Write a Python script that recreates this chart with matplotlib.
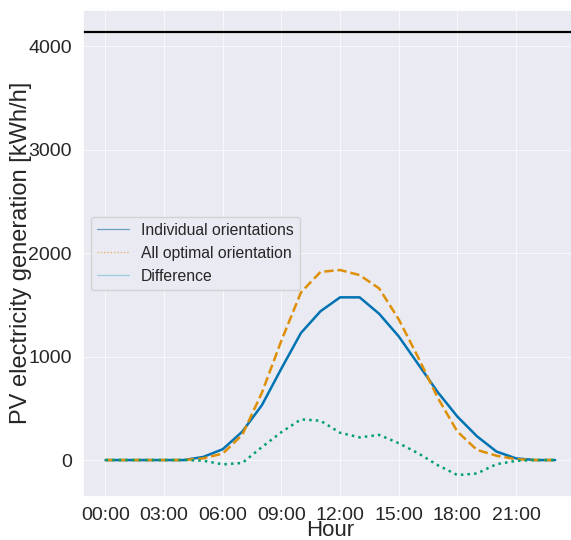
import matplotlib
matplotlib.use("Agg")
import matplotlib.pyplot as plt
import seaborn as sns
from matplotlib.lines import Line2D

hours = list(range(24))
individual = [0, 0, 0, 0, 0, 30, 105, 275, 530, 885, 1228, 1438, 1572, 1572, 1413, 1195,
              925, 655, 420, 230, 82, 16, 0, 0]
optimal = [0, 0, 0, 0, 0, 16, 63, 245, 650, 1155, 1620, 1818, 1836, 1787, 1658, 1360,
           990, 600, 275, 98, 42, 8, 0, 0]
difference = [0, 0, 0, 0, 0, -6, -42, -28, 125, 270, 393, 380, 264, 219, 243, 163,
              65, -50, -145, -130, -40, -8, 0, 0]
capacity = 4140
tick_hours = [0, 3, 6, 9, 12, 15, 18, 21]
tick_labels = ["00:00", "03:00", "06:00", "09:00", "12:00", "15:00", "18:00", "21:00"]
legend_labels = ["Individual orientations", "All optimal orientation", "Difference"]

sns.set_theme(style="darkgrid")
plt.rcParams['font.family'] = ['Liberation Sans', 'DejaVu Sans']

pal = sns.color_palette("colorblind")
fig = plt.figure(figsize=(5.71, 5.40), dpi=100)
ax = fig.add_axes([83 / 571, 43 / 540, 494.6 / 571, 487.5 / 540])

ax.plot(hours, individual, color=pal[0], lw=1.8, ls='-')
ax.plot(hours, optimal, color=pal[1], lw=1.8, ls='--')
ax.plot(hours, difference, color=pal[2], lw=1.8, ls=':')
ax.axhline(capacity, color='black', lw=1.6)

ax.set_xlim(-1.15, 24.15)
ax.set_ylim(-357, 4353)
ax.set_xticks(tick_hours)
ax.set_xticklabels(tick_labels)
ax.set_yticks([0, 1000, 2000, 3000, 4000])
ax.tick_params(labelsize=14, labelcolor='#262626')
ax.tick_params(axis='x', pad=1.5)
ax.tick_params(axis='y', pad=2)
ax.grid(color='white', lw=0.8, alpha=0.7)
ax.set_xlabel("Hour", fontsize=16, labelpad=-3)
ax.set_ylabel("PV electricity generation [kWh/h]", fontsize=17, labelpad=-3)

handles = [Line2D([0], [0], color='#6a9fc8', lw=0.9),
           Line2D([0], [0], color='#e9a55a', lw=0.9, ls=':'),
           Line2D([0], [0], color='#9ccbe2', lw=0.9)]
ax.legend(handles, legend_labels, loc='center left', fontsize=11.3)

fig.savefig("out.png", dpi=100)
